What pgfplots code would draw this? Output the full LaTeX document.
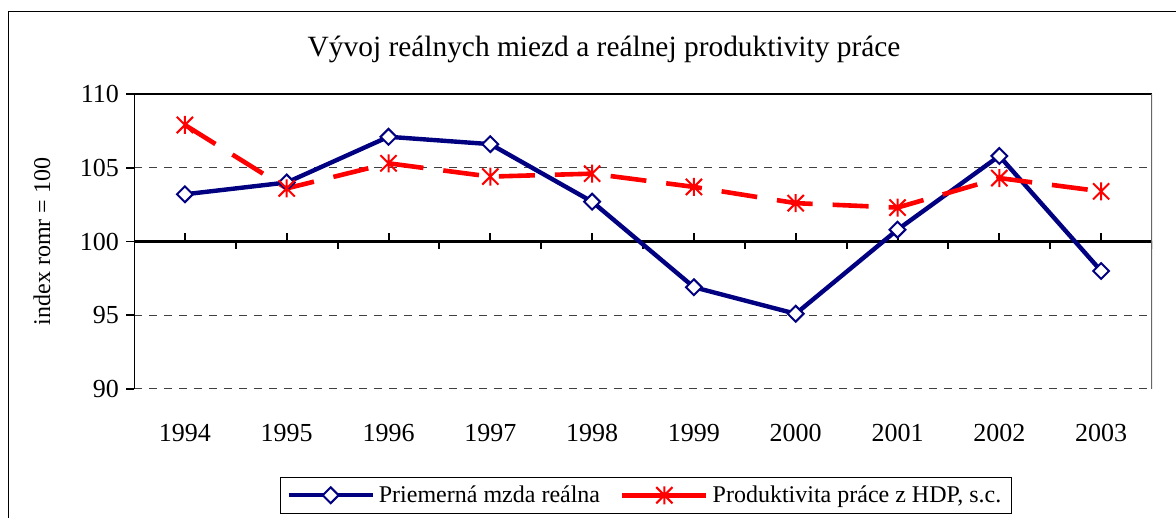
\documentclass[border=0pt]{standalone}
\usepackage{fontspec}
\setmainfont{Liberation Serif}
\usepackage{pgfplots}
\pgfplotsset{compat=1.18}
\definecolor{navy}{RGB}{0,0,128}
\pgfdeclareplotmark{xast}{%
  \pgfpathmoveto{\pgfqpoint{0pt}{\pgfplotmarksize}}%
  \pgfpathlineto{\pgfqpoint{0pt}{-\pgfplotmarksize}}%
  \pgfpathmoveto{\pgfqpoint{-.9\pgfplotmarksize}{.9\pgfplotmarksize}}%
  \pgfpathlineto{\pgfqpoint{.9\pgfplotmarksize}{-.9\pgfplotmarksize}}%
  \pgfpathmoveto{\pgfqpoint{-.9\pgfplotmarksize}{-.9\pgfplotmarksize}}%
  \pgfpathlineto{\pgfqpoint{.9\pgfplotmarksize}{.9\pgfplotmarksize}}%
  \pgfusepathqstroke}
\begin{document}
\begin{tikzpicture}
\useasboundingbox (0,0) rectangle (588pt,259pt);
\draw[line width=0.5pt] (4pt,-5pt) rectangle (600pt,253pt);
\begin{axis}[
  at={(67pt,64.5pt)}, anchor=south west,
  width=509pt, height=147.5pt, scale only axis,
  xmin=-0.5, xmax=9.5, ymin=90, ymax=110,
  xtick={0,...,9},
  xticklabels={1994,1995,1996,1997,1998,1999,2000,2001,2002,2003},
  ytick={90,95,100,105,110},
  /pgf/number format/assume math mode=true,
  xtick style={draw=none},
  ytick pos=left,
  tick align=outside,
  major tick length=4pt,
  ytick style={black, line width=0.8pt},
  axis line style={draw=none},
  ymajorgrids,
  grid style={black!75, line width=0.5pt, dash pattern=on 4pt off 3.5pt},
  ticklabel style={font=\fontsize{13}{15}\selectfont},
  xticklabel style={yshift=-10pt},
  ylabel={index romr = 100},
  ylabel style={at={(axis description cs:-0.0904,0.5)}, anchor=center, font=\fontsize{12}{14}\selectfont},
  title={Vývoj reálnych miezd a reálnej produktivity práce},
  title style={at={(axis description cs:0.4617,1.112)}, anchor=center, font=\fontsize{14.7}{17}\selectfont},
  legend columns=2,
  legend style={at={(0.1434,-0.298)}, anchor=north west, draw=black, line width=0.5pt,
    font=\fontsize{12}{14}\selectfont,
    /tikz/every even column/.append style={column sep=8pt}},
  legend image code/.code={\draw[mark repeat=2,mark phase=2,#1] plot coordinates {(0pt,0pt) (21pt,0pt) (42pt,0pt)};},
  legend image post style={solid},
]
\draw[black, line width=1.2pt] (axis cs:-0.5,100) -- (axis cs:9.5,100);
\pgfplotsinvokeforeach{0,...,9}{\draw[black, line width=1pt] (axis cs:#1,100) -- ([yshift=4pt]axis cs:#1,100);}
\pgfplotsinvokeforeach{-0.5,0.5,...,9.5}{\draw[black, line width=1pt] (axis cs:#1,100) -- ([yshift=-4pt]axis cs:#1,100);}
\draw[black, line width=0.6pt] (rel axis cs:0,1) -- (rel axis cs:1,1);
\draw[black!60, line width=0.6pt] (rel axis cs:1,0) -- (rel axis cs:1,1);
\draw[black, line width=1pt] (rel axis cs:0,0) -- (rel axis cs:0,1);

\addplot[navy, line width=2.2pt, mark=square*, mark size=2.8pt,
  mark options={rotate=45, fill=white, draw=navy, line width=1pt}]
  coordinates {(0,103.2) (1,104.0) (2,107.1) (3,106.6) (4,102.7) (5,96.9) (6,95.1) (7,100.8) (8,105.8) (9,98.0)};
\addlegendentry{Priemerná mzda reálna}
\addplot[red, line width=2.3pt, dash pattern=on 18pt off 10pt, mark=xast, mark size=4.5pt,
  mark options={solid, line width=1pt, red}]
  coordinates {(0,107.9) (1,103.6) (2,105.3) (3,104.4) (4,104.6) (5,103.7) (6,102.6) (7,102.3) (8,104.3) (9,103.4)};
\addlegendentry{Produktivita práce z HDP, s.c.}
\end{axis}
\end{tikzpicture}
\end{document}
